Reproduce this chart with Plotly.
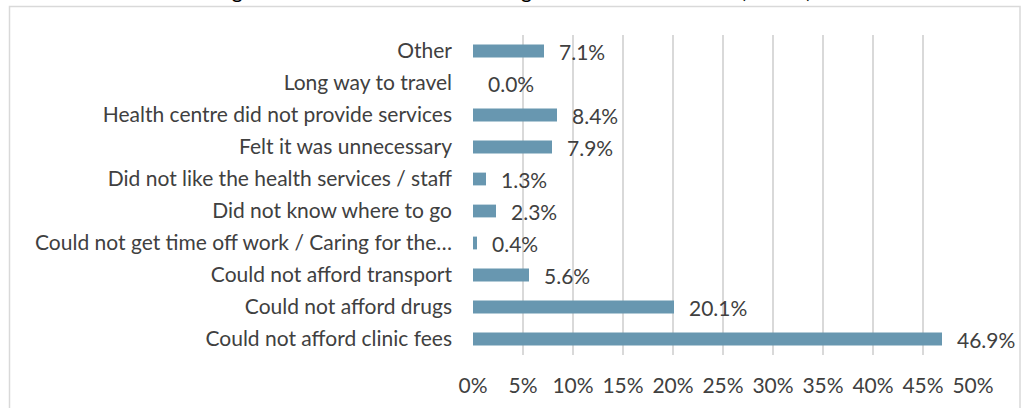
import plotly.graph_objects as go

# Reasons, listed bottom to top as they appear on the axis
reasons = [
    "Could not afford clinic fees",
    "Could not afford drugs",
    "Could not afford transport",
    "Could not get time off work / Caring for the…",
    "Did not know where to go",
    "Did not like the health services / staff",
    "Felt it was unnecessary",
    "Health centre did not provide services",
    "Long way to travel",
    "Other",
]
shares = [0.469, 0.201, 0.056, 0.004, 0.023, 0.013, 0.079, 0.084, 0.000, 0.071]
x_ticks = [0, 0.05, 0.10, 0.15, 0.20, 0.25, 0.30, 0.35, 0.40, 0.45, 0.50]
title_text = "Figure 13: Reasons for not seeking health care when sick (n=239)"

FONT = "Lato"
FS = 21
TEXT = "#404040"
BAR = "#6897b0"
GRID = "#d9d9d9"

W, H = 1027, 408
M = dict(l=473, r=54, t=35, b=53)
pw = W - M["l"] - M["r"]
ph = H - M["t"] - M["b"]


def px_to_paper_x(px):
    return (px - M["l"]) / pw


def px_to_paper_y(py):
    return (H - M["b"] - py) / ph


fig = go.Figure(
    go.Bar(
        x=shares,
        y=reasons,
        orientation="h",
        marker=dict(color=BAR, line=dict(width=0)),
        hoverinfo="skip",
    )
)

# value labels placed just past the end of each bar
annotations = [
    dict(
        x=v, y=r, xref="x", yref="y",
        text=f"{v * 100:.1f}%",
        showarrow=False, xanchor="left", xshift=13,
        font=dict(family=FONT, size=FS, color=TEXT),
    )
    for v, r in zip(shares, reasons)
]

# chart heading sits above the frame and runs off the top edge
annotations.append(
    dict(
        x=px_to_paper_x(513), y=px_to_paper_y(3.5), xref="paper", yref="paper",
        text=title_text, showarrow=False,
        xanchor="center", yanchor="bottom", borderpad=0,
        font=dict(family=FONT, size=FS, color="#000000"),
    )
)

fig.update_layout(
    width=W,
    height=H,
    margin=M,
    paper_bgcolor="white",
    plot_bgcolor="white",
    bargap=0.6,
    showlegend=False,
    annotations=annotations,
    shapes=[
        dict(
            type="rect", xref="paper", yref="paper",
            x0=px_to_paper_x(9.5), x1=px_to_paper_x(1020),
            y0=px_to_paper_y(430), y1=px_to_paper_y(6.5),
            line=dict(color=GRID, width=1.5), fillcolor="rgba(0,0,0,0)",
            layer="below",
        )
    ],
    xaxis=dict(
        range=[0, 0.5],
        tickvals=x_ticks,
        tickformat=".0%",
        showgrid=True,
        gridcolor=GRID,
        gridwidth=1.5,
        zeroline=False,
        showline=False,
        ticks="",
        ticklabelstandoff=16,
        tickfont=dict(family=FONT, size=FS, color=TEXT),
        fixedrange=True,
    ),
    yaxis=dict(
        type="category",
        categoryorder="array",
        categoryarray=reasons,
        showgrid=False,
        zeroline=False,
        showline=False,
        ticks="",
        ticklabelstandoff=20,
        tickfont=dict(family=FONT, size=FS, color=TEXT),
        fixedrange=True,
    ),
)

fig.write_html("out.html")
